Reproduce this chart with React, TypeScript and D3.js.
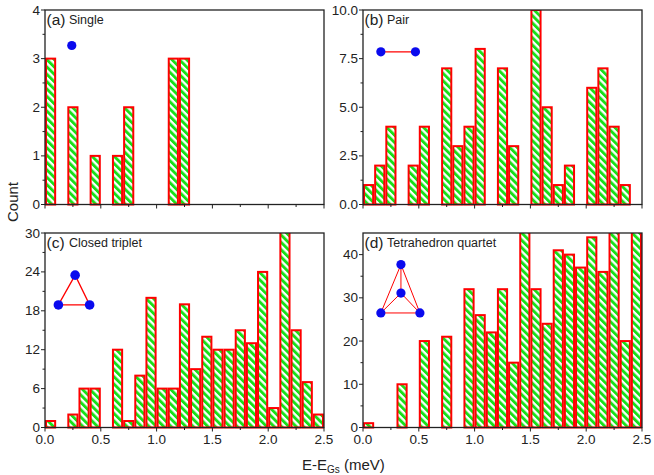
import React from 'react';
import * as d3 from 'd3';

// bin starts, 0.1 meV wide, 0 .. 2.4
const binStarts = d3.range(25).map(i => +(i * 0.1).toFixed(1));

// counts per bin (0 = empty bin)
const singleCounts = [3, 0, 2, 0, 1, 0, 1, 2, 0, 0, 0, 3, 3, 0, 0, 0, 0, 0, 0, 0, 0, 0, 0, 0, 0];
const pairCounts = [1, 2, 4, 0, 2, 4, 0, 7, 3, 4, 8, 0, 7, 3, 0, 10, 5, 1, 2, 0, 6, 7, 4, 1, 0];
const tripletCounts = [1, 0, 2, 6, 6, 0, 12, 1, 8, 20, 6, 6, 19, 9, 14, 12, 12, 15, 13, 24, 3, 31, 15, 7, 2];
const quartetCounts = [1, 0, 0, 10, 0, 20, 0, 21, 0, 32, 26, 22, 32, 15, 48, 32, 24, 41, 40, 37, 44, 36, 47, 20, 50];

const xTicks = [0, 0.5, 1.0, 1.5, 2.0, 2.5];
const xMinor = [0.25, 0.75, 1.25, 1.75, 2.25];

const panels = [
  { id: 'a', name: 'Single', counts: singleCounts, yMax: 4, ticks: [0, 1, 2, 3, 4], minor: [0.5, 1.5, 2.5, 3.5], fmt: '0', xLabels: false, left: 45, top: 10 },
  { id: 'b', name: 'Pair', counts: pairCounts, yMax: 10, ticks: [0, 2.5, 5, 7.5, 10], minor: [1.25, 3.75, 6.25, 8.75], fmt: '.1f', xLabels: false, left: 363, top: 10 },
  { id: 'c', name: 'Closed triplet', counts: tripletCounts, yMax: 30, ticks: [0, 6, 12, 18, 24, 30], minor: [3, 9, 15, 21, 27], fmt: '0', xLabels: true, left: 45, top: 233 },
  { id: 'd', name: 'Tetrahedron quartet', counts: quartetCounts, yMax: 45, ticks: [0, 10, 20, 30, 40], minor: [5, 15, 25, 35], fmt: '0', xLabels: true, left: 363, top: 233 },
];

const W = 279;
const H = 194.5;
const font = 'Liberation Sans, Arial, sans-serif';
const red = '#ff0000';
const blue = '#0a0aee';

function Icon({ id, x, y }: any) {
  // molecule sketches, positioned in data units of each panel
  if (id === 'a') {
    return <circle cx={x(0.24)} cy={y(3.27)} r={4.6} fill={blue} />;
  }
  if (id === 'b') {
    const p = [[0.16, 7.85], [0.47, 7.85]];
    return (
      <g>
        <line x1={x(p[0][0])} y1={y(p[0][1])} x2={x(p[1][0])} y2={y(p[1][1])} stroke={red} strokeWidth={1.2} />
        {p.map((d, i) => <circle key={i} cx={x(d[0])} cy={y(d[1])} r={4.6} fill={blue} />)}
      </g>
    );
  }
  if (id === 'c') {
    const p = [[0.27, 23.5], [0.12, 18.9], [0.4, 18.9]];
    return (
      <g>
        <polygon points={p.map(d => `${x(d[0])},${y(d[1])}`).join(' ')} fill="none" stroke={red} strokeWidth={1.3} />
        {p.map((d, i) => <circle key={i} cx={x(d[0])} cy={y(d[1])} r={4.8} fill={blue} />)}
      </g>
    );
  }
  const top = [0.34, 37.7];
  const mid = [0.34, 31.1];
  const bl = [0.16, 26.5];
  const br = [0.51, 26.5];
  const edges = [[top, bl], [top, br], [bl, br], [top, mid], [mid, bl], [mid, br]];
  return (
    <g>
      {edges.map((e, i) => (
        <line key={i} x1={x(e[0][0])} y1={y(e[0][1])} x2={x(e[1][0])} y2={y(e[1][1])} stroke={red} strokeWidth={1} />
      ))}
      {[top, mid, bl, br].map((d, i) => <circle key={i} cx={x(d[0])} cy={y(d[1])} r={4.6} fill={blue} />)}
    </g>
  );
}

function Panel({ p }: any) {
  const x = d3.scaleLinear().domain([0, 2.5]).range([p.left, p.left + W]);
  const y = d3.scaleLinear().domain([0, p.yMax]).range([p.top + H, p.top]);
  const fmt = p.fmt === '0' ? (v: number) => String(v) : d3.format(p.fmt);
  return (
    <g>
      <g clipPath={`url(#clip-${p.id})`}>
        {p.counts.map((c: number, i: number) => c > 0 && (
          <rect
            key={i}
            x={x(binStarts[i]) + 1}
            y={y(c)}
            width={x(binStarts[i] + 0.1) - x(binStarts[i]) - 2}
            height={y(0) - y(c)}
            fill="url(#hatch)"
            stroke={red}
            strokeWidth={2}
          />
        ))}
      </g>
      <rect x={p.left} y={p.top} width={W} height={H} fill="none" stroke="#222" strokeWidth={1.3} />
      {xTicks.map(t => (
        <line key={t} x1={x(t)} x2={x(t)} y1={y(0)} y2={y(0) + 4} stroke="#222" strokeWidth={1} />
      ))}
      {xMinor.map(t => (
        <line key={t} x1={x(t)} x2={x(t)} y1={y(0)} y2={y(0) + 2.5} stroke="#222" strokeWidth={1} />
      ))}
      {p.xLabels && xTicks.map(t => (
        <text key={t} x={x(t)} y={y(0) + 16} textAnchor="middle" fontSize={13.5} fontFamily={font} fill="#222">
          {d3.format('.1f')(t)}
        </text>
      ))}
      {p.ticks.map((t: number) => (
        <g key={t}>
          <line x1={p.left - 4} x2={p.left} y1={y(t)} y2={y(t)} stroke="#222" strokeWidth={1} />
          <text x={p.left - 5} y={y(t) + 4.5} textAnchor="end" fontSize={13.5} fontFamily={font} fill="#222">{fmt(t)}</text>
        </g>
      ))}
      {p.minor.map((t: number) => (
        <line key={t} x1={p.left - 2.5} x2={p.left} y1={y(t)} y2={y(t)} stroke="#222" strokeWidth={1} />
      ))}
      <text x={p.left + 1.5} y={p.top + 15} fontSize={15.5} fontFamily={font} fill="#222">({p.id})</text>
      <text x={p.left + 24} y={p.top + 14} fontSize={12.5} fontFamily={font} fill="#222">{p.name}</text>
      <Icon id={p.id} x={x} y={y} />
    </g>
  );
}

export default function App() {
  return (
    <svg width={654} height={475} style={{ position: 'absolute', left: 0, top: 0, background: '#fff' }}>
      <defs>
        <pattern id="hatch" patternUnits="userSpaceOnUse" width={5.2} height={5.2} patternTransform="rotate(-45)">
          <rect width={5.2} height={5.2} fill="#fff" />
          <rect width={2.9} height={5.2} fill="#18e018" />
        </pattern>
        {panels.map(p => (
          <clipPath key={p.id} id={`clip-${p.id}`}>
            <rect x={p.left - 2} y={p.top} width={W + 4} height={H + 2} />
          </clipPath>
        ))}
      </defs>
      {panels.map(p => <Panel key={p.id} p={p} />)}
      <text transform="translate(18,202) rotate(-90)" textAnchor="middle" fontSize={15} fontFamily={font} fill="#222">Count</text>
      <text x={302} y={470} fontSize={15} fontFamily={font} fill="#222">
        E-E<tspan fontSize={10} dy={3}>Gs</tspan><tspan dy={-3}> (meV)</tspan>
      </text>
    </svg>
  );
}
